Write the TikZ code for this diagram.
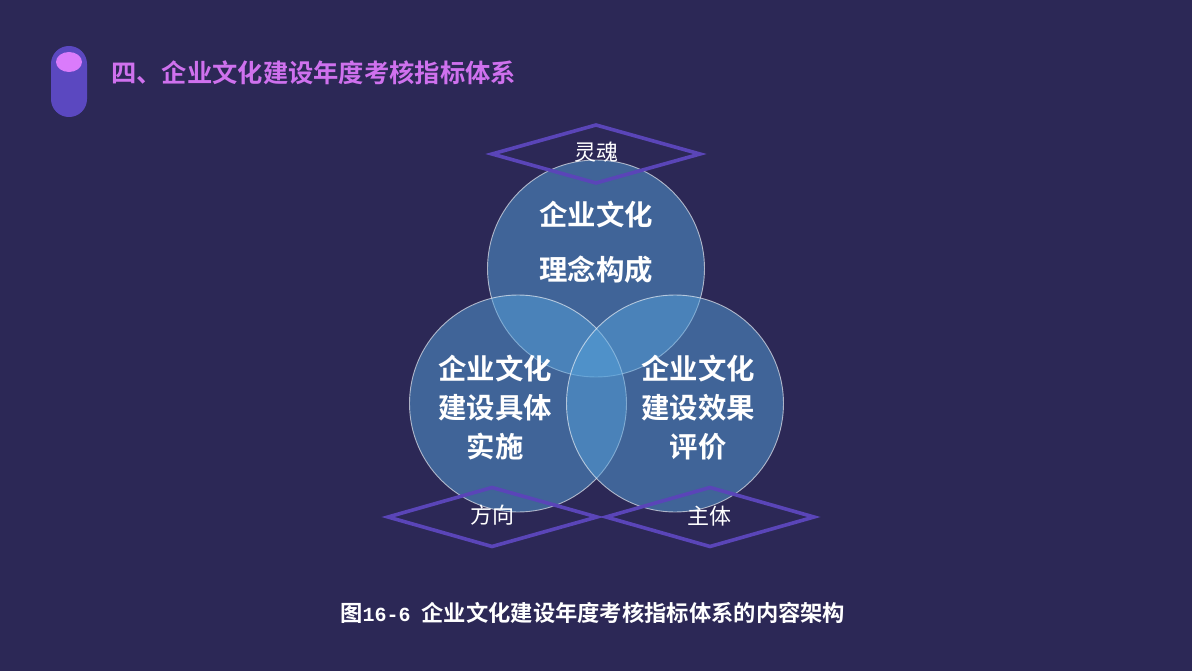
\documentclass[tikz,border=0pt]{standalone}
\usepackage{fontspec}
\setmainfont{Noto Sans CJK SC}[BoldFont={Noto Sans CJK SC Bold}]
\newfontfamily\latinbold{Liberation Mono}[BoldFont={Liberation Mono Bold}]
\definecolor{bgc}{RGB}{44,40,86}
\definecolor{circc}{RGB}{84,160,218}
\definecolor{pillc}{RGB}{91,72,192}
\definecolor{capc}{RGB}{218,123,251}
\definecolor{titlec}{RGB}{207,113,238}
\definecolor{diac}{RGB}{90,69,184}
\tikzset{
  x=1pt,y=-1pt,
  venn/.style={circle,minimum size=217pt,inner sep=0pt,fill=circc,fill opacity=.5,draw=white,draw opacity=.6,line width=.9pt},
  rhomb/.style={draw=diac,line width=3.6pt,line join=miter,miter limit=10},
  bigtxt/.style={text=white,font=\fontsize{28.4}{39}\selectfont\bfseries,inner sep=0pt,align=center},
  smalltxt/.style={text=white,font=\fontsize{22}{22}\selectfont,inner sep=0pt},
}
\begin{document}
\begin{tikzpicture}
\useasboundingbox (0,0) rectangle (1192,671);
\fill[bgc] (0,0) rectangle (1192,671);
% cylinder badge
\fill[pillc,rounded corners=17.9pt] (51,46) rectangle (87,117);
\fill[capc] (69,62) ellipse [x radius=13,y radius=10];
\node[inner sep=0pt,anchor=west,text=titlec,font=\fontsize{25.3}{25.3}\selectfont\bfseries] (title) at (111,73) {四、企业文化建设年度考核指标体系};
% circles
\node[venn] (top) at (596,268.5) {};
\node[venn] (left) at (518,403.5) {};
\node[venn] (right) at (675,403.5) {};
% diamonds
\draw[rhomb] (492,154) -- (596,125) -- (700,154) -- (596,183) -- cycle;
\draw[rhomb] (388,517) -- (492,487.5) -- (597,517) -- (492,546.5) -- cycle;
\draw[rhomb] (606,517) -- (710,487.5) -- (814,517) -- (710,546.5) -- cycle;
% texts
\node[bigtxt] (ttop1) at (596,215) {企业文化};
\node[bigtxt] (ttop2) at (596,270) {理念构成};
\node[bigtxt] (tleft) at (495,407.5) {企业文化\\建设具体\\实施};
\node[bigtxt] (tright) at (698,407.5) {企业文化\\建设效果\\评价};
\node[smalltxt] (soul) at (596,152) {灵魂};
\node[smalltxt] (dir) at (492,515) {方向};
\node[smalltxt] (subj) at (709,516) {主体};
\node[inner sep=0pt,anchor=west,text=white,font=\fontsize{22.3}{22.3}\selectfont\bfseries] (caption) at (340,613) {图{\fontsize{20}{20}\selectfont\latinbold 16-6}\hspace{11pt}企业文化建设年度考核指标体系的内容架构};
\end{tikzpicture}
\end{document}
